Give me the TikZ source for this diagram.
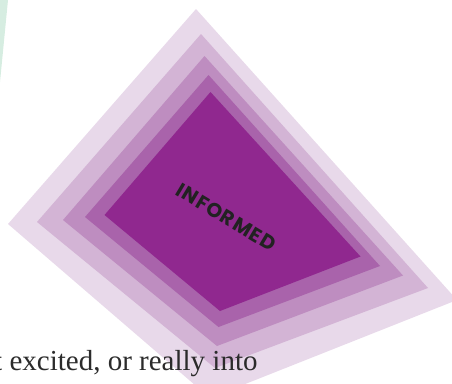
\documentclass[tikz,border=0pt]{standalone}
\usepackage{fontspec}
\setmainfont{Liberation Serif}
\newfontfamily\tagfont[LetterSpace=6]{Poppins}
\definecolor{mint}{HTML}{D6EDE1}
\definecolor{lilacA}{HTML}{E8D9EA}
\definecolor{lilacB}{HTML}{D3B4D5}
\definecolor{lilacC}{HTML}{BE8DC0}
\definecolor{lilacD}{HTML}{A963AB}
\definecolor{lilacE}{HTML}{90288F}
\definecolor{inkgray}{HTML}{2B2B2B}
\begin{document}
\begin{tikzpicture}[x=1pt,y=-1pt,
  tagtext/.style={inner sep=0pt,text=inkgray!80!black,font=\tagfont\bfseries\fontsize{20}{24}\selectfont},
  bodytext/.style={inner sep=0pt,text=inkgray,font=\fontsize{29}{34}\selectfont}
  ]
    \useasboundingbox (0,0) rectangle (452,383);
    \fill[mint] (0,0) -- (8,0) -- (0,82) -- cycle;
    \fill[lilacA] (196,9) -- (457,300) -- (210,398) -- (8,224) -- cycle;
    \fill[lilacB] (201,34) -- (428,288) -- (215,368) -- (37,222) -- cycle;
    \fill[lilacC] (204.5,56) -- (403,275.5) -- (217,346) -- (63,220) -- cycle;
    \fill[lilacD] (208.5,75) -- (380,266) -- (218.5,327) -- (85,217) -- cycle;
    \fill[lilacE] (210.5,92) -- (360.5,256.5) -- (220,311) -- (104.5,215) -- cycle;
    \node[tagtext,rotate=-31] (informed) at (226,217) {INFORMED};
    \node[bodytext,anchor=base west] (excerpt) at (-6,370.7) {t excited, or really into};
\end{tikzpicture}
\end{document}
